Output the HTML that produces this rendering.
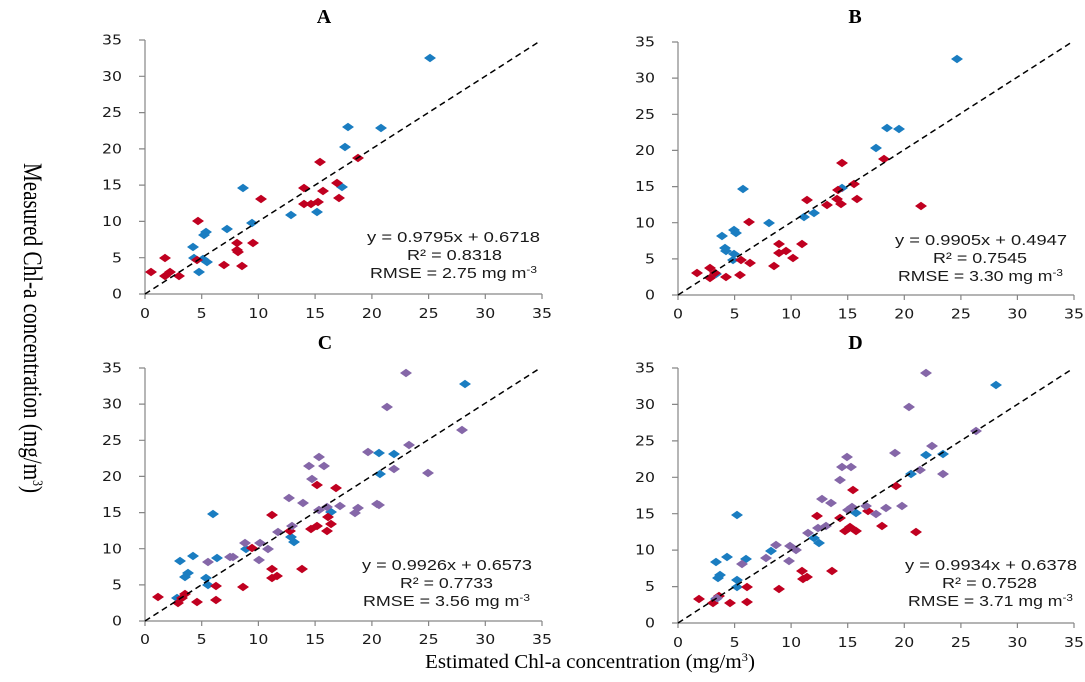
<!DOCTYPE html>
<html><head><meta charset="utf-8"><style>
html,body{margin:0;padding:0;background:#fff;}
svg{display:block;}
.t{font-family:"DejaVu Sans","Liberation Sans",sans-serif;font-size:13px;fill:#1a1a1a;}
.eq{font-family:"Liberation Sans",sans-serif;font-size:15px;fill:#1a1a1a;}
.ti{font-family:"Liberation Serif",serif;font-size:20px;font-weight:bold;fill:#000;}
.lab{font-family:"Liberation Serif",serif;font-size:20px;fill:#000;}
.ax{stroke:#868686;stroke-width:1.2;fill:none;}
.dl{stroke:#000;stroke-width:1.5;stroke-dasharray:6,4;fill:none;}
</style></head><body>
<svg width="1085" height="682" viewBox="0 0 1085 682" xmlns="http://www.w3.org/2000/svg">
<defs>
<polygon id="r" points="0,-4.2 6,0 0,4.2 -6,0" fill="#c00020"/>
<polygon id="b" points="0,-4.2 6,0 0,4.2 -6,0" fill="#1a7dc1"/>
<polygon id="p" points="0,-4.2 6,0 0,4.2 -6,0" fill="#8567a8"/>
</defs>
<rect width="1085" height="682" fill="#fff"/>

<!-- Titles -->
<text class="ti" x="324" y="23" text-anchor="middle">A</text>
<text class="ti" x="855" y="23" text-anchor="middle">B</text>
<text class="ti" x="325" y="349" text-anchor="middle">C</text>
<text class="ti" x="855.5" y="349" text-anchor="middle">D</text>

<!-- Axis labels -->
<text class="lab" transform="translate(24,163) rotate(90) scale(1,1.3)" x="0" y="0" font-size="18" textLength="330" lengthAdjust="spacingAndGlyphs">Measured  Chl-a  concentration  (mg/m<tspan dy="-7" font-size="11">3</tspan><tspan dy="7">)</tspan></text>
<text class="lab" x="425" y="668" textLength="330" lengthAdjust="spacingAndGlyphs">Estimated  Chl-a  concentration  (mg/m<tspan dy="-7" font-size="12">3</tspan><tspan dy="7">)</tspan></text>

<!-- ===== Panel A ===== -->
<g>
<path class="ax" d="M145,40V294H542"/>
<path class="ax" d="M139,294H145M139,257.7H145M139,221.4H145M139,185.1H145M139,148.9H145M139,112.6H145M139,76.3H145M139,40H145
M145,294V299M201.7,294V299M258.4,294V299M315.1,294V299M371.9,294V299M428.6,294V299M485.3,294V299M542,294V299"/>
<g class="t">
<text x="112" y="298.6" textLength="10" lengthAdjust="spacingAndGlyphs">0</text>
<text x="112" y="262.3" textLength="10" lengthAdjust="spacingAndGlyphs">5</text>
<text x="102" y="226" textLength="20" lengthAdjust="spacingAndGlyphs">10</text>
<text x="102" y="189.7" textLength="20" lengthAdjust="spacingAndGlyphs">15</text>
<text x="102" y="153.5" textLength="20" lengthAdjust="spacingAndGlyphs">20</text>
<text x="102" y="117.2" textLength="20" lengthAdjust="spacingAndGlyphs">25</text>
<text x="102" y="80.9" textLength="20" lengthAdjust="spacingAndGlyphs">30</text>
<text x="102" y="44.6" textLength="20" lengthAdjust="spacingAndGlyphs">35</text>
<text x="140" y="317.8" textLength="10" lengthAdjust="spacingAndGlyphs">0</text>
<text x="196.7" y="317.8" textLength="10" lengthAdjust="spacingAndGlyphs">5</text>
<text x="248.4" y="317.8" textLength="20" lengthAdjust="spacingAndGlyphs">10</text>
<text x="305.1" y="317.8" textLength="20" lengthAdjust="spacingAndGlyphs">15</text>
<text x="361.9" y="317.8" textLength="20" lengthAdjust="spacingAndGlyphs">20</text>
<text x="418.6" y="317.8" textLength="20" lengthAdjust="spacingAndGlyphs">25</text>
<text x="475.3" y="317.8" textLength="20" lengthAdjust="spacingAndGlyphs">30</text>
<text x="532" y="317.8" textLength="20" lengthAdjust="spacingAndGlyphs">35</text>
</g>
<g>
<use href="#b" x="193" y="247"/><use href="#b" x="194" y="258"/><use href="#b" x="199" y="272"/><use href="#b" x="206" y="232"/><use href="#b" x="204" y="235"/><use href="#b" x="203" y="259"/><use href="#b" x="207" y="262"/><use href="#b" x="227" y="229"/><use href="#b" x="243" y="188"/><use href="#b" x="252" y="223"/><use href="#b" x="291" y="215"/><use href="#b" x="317" y="212"/><use href="#b" x="342" y="187"/><use href="#b" x="345" y="147"/><use href="#b" x="348" y="127"/><use href="#b" x="381" y="128"/><use href="#b" x="430" y="58"/>
<use href="#r" x="151" y="272"/><use href="#r" x="165" y="258"/><use href="#r" x="165" y="276"/><use href="#r" x="170" y="272"/><use href="#r" x="179" y="276"/><use href="#r" x="198" y="221"/><use href="#r" x="197" y="260"/><use href="#r" x="224" y="265"/><use href="#r" x="237" y="243"/><use href="#r" x="237" y="250"/><use href="#r" x="238" y="252"/><use href="#r" x="242" y="266"/><use href="#r" x="253" y="243"/><use href="#r" x="261" y="199"/><use href="#r" x="304" y="188"/><use href="#r" x="304" y="204"/><use href="#r" x="311" y="204"/><use href="#r" x="318" y="202"/><use href="#r" x="320" y="162"/><use href="#r" x="323" y="191"/><use href="#r" x="337" y="183"/><use href="#r" x="339" y="198"/><use href="#r" x="358" y="158"/>
</g>
<path class="dl" d="M145,294L537.4,42.8"/>
<g class="eq">
<text x="367" y="242" textLength="173" lengthAdjust="spacingAndGlyphs">y = 0.9795x + 0.6718</text>
<text x="407" y="260" textLength="95" lengthAdjust="spacingAndGlyphs">R² = 0.8318</text>
<text x="370" y="278" textLength="167" lengthAdjust="spacingAndGlyphs">RMSE = 2.75 mg m<tspan dy="-5" font-size="10">-3</tspan></text>
</g>
</g>

<!-- ===== Panel B ===== -->
<g>
<path class="ax" d="M678,42V295H1074"/>
<path class="ax" d="M672,295H678M672,258.9H678M672,222.7H678M672,186.6H678M672,150.4H678M672,114.3H678M672,78.1H678M672,42H678
M678,295V300M734.6,295V300M791.1,295V300M847.7,295V300M904.3,295V300M960.9,295V300M1017.4,295V300M1074,295V300"/>
<g class="t">
<text x="645" y="299.6" textLength="10" lengthAdjust="spacingAndGlyphs">0</text>
<text x="645" y="263.5" textLength="10" lengthAdjust="spacingAndGlyphs">5</text>
<text x="635" y="227.3" textLength="20" lengthAdjust="spacingAndGlyphs">10</text>
<text x="635" y="191.2" textLength="20" lengthAdjust="spacingAndGlyphs">15</text>
<text x="635" y="155" textLength="20" lengthAdjust="spacingAndGlyphs">20</text>
<text x="635" y="118.9" textLength="20" lengthAdjust="spacingAndGlyphs">25</text>
<text x="635" y="82.7" textLength="20" lengthAdjust="spacingAndGlyphs">30</text>
<text x="635" y="46.6" textLength="20" lengthAdjust="spacingAndGlyphs">35</text>
<text x="673" y="318.3" textLength="10" lengthAdjust="spacingAndGlyphs">0</text>
<text x="729.6" y="318.3" textLength="10" lengthAdjust="spacingAndGlyphs">5</text>
<text x="781.1" y="318.3" textLength="20" lengthAdjust="spacingAndGlyphs">10</text>
<text x="837.7" y="318.3" textLength="20" lengthAdjust="spacingAndGlyphs">15</text>
<text x="894.3" y="318.3" textLength="20" lengthAdjust="spacingAndGlyphs">20</text>
<text x="950.9" y="318.3" textLength="20" lengthAdjust="spacingAndGlyphs">25</text>
<text x="1007.4" y="318.3" textLength="20" lengthAdjust="spacingAndGlyphs">30</text>
<text x="1064" y="318.3" textLength="20" lengthAdjust="spacingAndGlyphs">35</text>
</g>
<g>
<use href="#b" x="716" y="274"/><use href="#b" x="722" y="236"/><use href="#b" x="725" y="248"/><use href="#b" x="726" y="251"/><use href="#b" x="734" y="254"/><use href="#b" x="733" y="260"/><use href="#b" x="734" y="230"/><use href="#b" x="736" y="233"/><use href="#b" x="743" y="189"/><use href="#b" x="769" y="223"/><use href="#b" x="804" y="217"/><use href="#b" x="814" y="213"/><use href="#b" x="842" y="188"/><use href="#b" x="876" y="148"/><use href="#b" x="887" y="128"/><use href="#b" x="899" y="129"/><use href="#b" x="957" y="59"/>
<use href="#r" x="697" y="273"/><use href="#r" x="710" y="268"/><use href="#r" x="710" y="278"/><use href="#r" x="715" y="273"/><use href="#r" x="726" y="277"/><use href="#r" x="741" y="260"/><use href="#r" x="740" y="275"/><use href="#r" x="750" y="263"/><use href="#r" x="749" y="222"/><use href="#r" x="774" y="266"/><use href="#r" x="779" y="244"/><use href="#r" x="779" y="253"/><use href="#r" x="786" y="251"/><use href="#r" x="793" y="258"/><use href="#r" x="802" y="244"/><use href="#r" x="807" y="200"/><use href="#r" x="827" y="205"/><use href="#r" x="837" y="199"/><use href="#r" x="838" y="190"/><use href="#r" x="841" y="204"/><use href="#r" x="842" y="163"/><use href="#r" x="854" y="184"/><use href="#r" x="857" y="199"/><use href="#r" x="884" y="159"/><use href="#r" x="921" y="206"/>
</g>
<path class="dl" d="M678,295L1070,43.3"/>
<g class="eq">
<text x="895" y="245" textLength="172" lengthAdjust="spacingAndGlyphs">y = 0.9905x + 0.4947</text>
<text x="933" y="263" textLength="94" lengthAdjust="spacingAndGlyphs">R² = 0.7545</text>
<text x="898" y="281" textLength="165" lengthAdjust="spacingAndGlyphs">RMSE = 3.30 mg m<tspan dy="-5" font-size="10">-3</tspan></text>
</g>
</g>

<!-- ===== Panel C ===== -->
<g>
<path class="ax" d="M145,368V621H542"/>
<path class="ax" d="M139,621H145M139,584.9H145M139,548.7H145M139,512.6H145M139,476.4H145M139,440.3H145M139,404.1H145M139,368H145
M145,621V626M201.7,621V626M258.4,621V626M315.1,621V626M371.9,621V626M428.6,621V626M485.3,621V626M542,621V626"/>
<g class="t">
<text x="112" y="625.6" textLength="10" lengthAdjust="spacingAndGlyphs">0</text>
<text x="112" y="589.5" textLength="10" lengthAdjust="spacingAndGlyphs">5</text>
<text x="102" y="553.3" textLength="20" lengthAdjust="spacingAndGlyphs">10</text>
<text x="102" y="517.2" textLength="20" lengthAdjust="spacingAndGlyphs">15</text>
<text x="102" y="481" textLength="20" lengthAdjust="spacingAndGlyphs">20</text>
<text x="102" y="444.9" textLength="20" lengthAdjust="spacingAndGlyphs">25</text>
<text x="102" y="408.7" textLength="20" lengthAdjust="spacingAndGlyphs">30</text>
<text x="102" y="372.6" textLength="20" lengthAdjust="spacingAndGlyphs">35</text>
<text x="140" y="643.8" textLength="10" lengthAdjust="spacingAndGlyphs">0</text>
<text x="196.7" y="643.8" textLength="10" lengthAdjust="spacingAndGlyphs">5</text>
<text x="248.4" y="643.8" textLength="20" lengthAdjust="spacingAndGlyphs">10</text>
<text x="305.1" y="643.8" textLength="20" lengthAdjust="spacingAndGlyphs">15</text>
<text x="361.9" y="643.8" textLength="20" lengthAdjust="spacingAndGlyphs">20</text>
<text x="418.6" y="643.8" textLength="20" lengthAdjust="spacingAndGlyphs">25</text>
<text x="475.3" y="643.8" textLength="20" lengthAdjust="spacingAndGlyphs">30</text>
<text x="532" y="643.8" textLength="20" lengthAdjust="spacingAndGlyphs">35</text>
</g>
<g>
<use href="#b" x="177" y="598"/><use href="#b" x="180" y="561"/><use href="#b" x="185" y="577"/><use href="#b" x="188" y="573"/><use href="#b" x="193" y="556"/><use href="#b" x="206" y="578"/><use href="#b" x="208" y="585"/><use href="#b" x="213" y="514"/><use href="#b" x="217" y="558"/><use href="#b" x="246" y="549"/><use href="#b" x="291" y="537"/><use href="#b" x="294" y="542"/><use href="#b" x="331" y="512"/><use href="#b" x="379" y="453"/><use href="#b" x="380" y="474"/><use href="#b" x="394" y="454"/><use href="#b" x="465" y="384"/>
<use href="#r" x="158" y="597"/><use href="#r" x="178" y="603"/><use href="#r" x="182" y="598"/><use href="#r" x="185" y="594"/><use href="#r" x="197" y="602"/><use href="#r" x="216" y="586"/><use href="#r" x="216" y="600"/><use href="#r" x="243" y="587"/><use href="#r" x="252" y="548"/><use href="#r" x="272" y="515"/><use href="#r" x="272" y="569"/><use href="#r" x="272" y="578"/><use href="#r" x="277" y="576"/><use href="#r" x="290" y="531"/><use href="#r" x="302" y="569"/><use href="#r" x="311" y="529"/><use href="#r" x="317" y="485"/><use href="#r" x="317" y="526"/><use href="#r" x="327" y="531"/><use href="#r" x="328" y="517"/><use href="#r" x="331" y="524"/><use href="#r" x="336" y="488"/>
<use href="#p" x="208" y="562"/><use href="#p" x="230" y="557"/><use href="#p" x="233" y="557"/><use href="#p" x="245" y="543"/><use href="#p" x="259" y="560"/><use href="#p" x="260" y="543"/><use href="#p" x="268" y="549"/><use href="#p" x="278" y="532"/><use href="#p" x="289" y="498"/><use href="#p" x="292" y="526"/><use href="#p" x="303" y="503"/><use href="#p" x="309" y="466"/><use href="#p" x="312" y="479"/><use href="#p" x="319" y="457"/><use href="#p" x="319" y="510"/><use href="#p" x="324" y="466"/><use href="#p" x="327" y="507"/><use href="#p" x="340" y="506"/><use href="#p" x="355" y="513"/><use href="#p" x="358" y="508"/><use href="#p" x="368" y="452"/><use href="#p" x="377" y="504"/><use href="#p" x="406" y="373"/><use href="#p" x="387" y="407"/><use href="#p" x="462" y="430"/><use href="#p" x="409" y="445"/><use href="#p" x="394" y="469"/><use href="#p" x="428" y="473"/><use href="#p" x="379" y="505"/>
</g>
<path class="dl" d="M145,621L538.3,369.3"/>
<g class="eq">
<text x="362" y="570" textLength="170" lengthAdjust="spacingAndGlyphs">y = 0.9926x + 0.6573</text>
<text x="400" y="588" textLength="93" lengthAdjust="spacingAndGlyphs">R² = 0.7733</text>
<text x="363" y="606" textLength="167" lengthAdjust="spacingAndGlyphs">RMSE = 3.56 mg m<tspan dy="-5" font-size="10">-3</tspan></text>
</g>
</g>

<!-- ===== Panel D ===== -->
<g>
<path class="ax" d="M678,368V623H1074"/>
<path class="ax" d="M672,623H678M672,586.6H678M672,550.1H678M672,513.7H678M672,477.3H678M672,440.9H678M672,404.4H678M672,368H678
M678,623V628M734.6,623V628M791.1,623V628M847.7,623V628M904.3,623V628M960.9,623V628M1017.4,623V628M1074,623V628"/>
<g class="t">
<text x="645" y="627.6" textLength="10" lengthAdjust="spacingAndGlyphs">0</text>
<text x="645" y="591.2" textLength="10" lengthAdjust="spacingAndGlyphs">5</text>
<text x="635" y="554.7" textLength="20" lengthAdjust="spacingAndGlyphs">10</text>
<text x="635" y="518.3" textLength="20" lengthAdjust="spacingAndGlyphs">15</text>
<text x="635" y="481.9" textLength="20" lengthAdjust="spacingAndGlyphs">20</text>
<text x="635" y="445.5" textLength="20" lengthAdjust="spacingAndGlyphs">25</text>
<text x="635" y="409" textLength="20" lengthAdjust="spacingAndGlyphs">30</text>
<text x="635" y="372.6" textLength="20" lengthAdjust="spacingAndGlyphs">35</text>
<text x="673" y="646.8" textLength="10" lengthAdjust="spacingAndGlyphs">0</text>
<text x="729.6" y="646.8" textLength="10" lengthAdjust="spacingAndGlyphs">5</text>
<text x="781.1" y="646.8" textLength="20" lengthAdjust="spacingAndGlyphs">10</text>
<text x="837.7" y="646.8" textLength="20" lengthAdjust="spacingAndGlyphs">15</text>
<text x="894.3" y="646.8" textLength="20" lengthAdjust="spacingAndGlyphs">20</text>
<text x="950.9" y="646.8" textLength="20" lengthAdjust="spacingAndGlyphs">25</text>
<text x="1007.4" y="646.8" textLength="20" lengthAdjust="spacingAndGlyphs">30</text>
<text x="1064" y="646.8" textLength="20" lengthAdjust="spacingAndGlyphs">35</text>
</g>
<g>
<use href="#b" x="716" y="599"/><use href="#b" x="716" y="562"/><use href="#b" x="720" y="575"/><use href="#b" x="718" y="578"/><use href="#b" x="727" y="557"/><use href="#b" x="737" y="515"/><use href="#b" x="737" y="580"/><use href="#b" x="737" y="587"/><use href="#b" x="746" y="559"/><use href="#b" x="771" y="551"/><use href="#b" x="814" y="538"/><use href="#b" x="819" y="543"/><use href="#b" x="856" y="513"/><use href="#b" x="911" y="474"/><use href="#b" x="926" y="455"/><use href="#b" x="943" y="454"/><use href="#b" x="996" y="385"/>
<use href="#r" x="699" y="599"/><use href="#r" x="713" y="603"/><use href="#r" x="719" y="596"/><use href="#r" x="730" y="603"/><use href="#r" x="747" y="587"/><use href="#r" x="747" y="602"/><use href="#r" x="779" y="589"/><use href="#r" x="802" y="571"/><use href="#r" x="803" y="579"/><use href="#r" x="807" y="577"/><use href="#r" x="817" y="516"/><use href="#r" x="832" y="571"/><use href="#r" x="840" y="518"/><use href="#r" x="845" y="531"/><use href="#r" x="850" y="527"/><use href="#r" x="853" y="490"/><use href="#r" x="856" y="531"/><use href="#r" x="868" y="511"/><use href="#r" x="882" y="526"/><use href="#r" x="896" y="486"/><use href="#r" x="916" y="532"/>
<use href="#p" x="717" y="598"/><use href="#p" x="742" y="564"/><use href="#p" x="766" y="558"/><use href="#p" x="776" y="545"/><use href="#p" x="789" y="561"/><use href="#p" x="790" y="546"/><use href="#p" x="796" y="550"/><use href="#p" x="808" y="533"/><use href="#p" x="818" y="528"/><use href="#p" x="822" y="499"/><use href="#p" x="826" y="526"/><use href="#p" x="831" y="503"/><use href="#p" x="840" y="480"/><use href="#p" x="842" y="467"/><use href="#p" x="847" y="457"/><use href="#p" x="851" y="467"/><use href="#p" x="848" y="510"/><use href="#p" x="852" y="507"/><use href="#p" x="866" y="506"/><use href="#p" x="876" y="514"/><use href="#p" x="886" y="508"/><use href="#p" x="902" y="506"/><use href="#p" x="895" y="453"/><use href="#p" x="920" y="470"/><use href="#p" x="926" y="373"/><use href="#p" x="909" y="407"/><use href="#p" x="932" y="446"/><use href="#p" x="943" y="474"/><use href="#p" x="976" y="431"/>
</g>
<path class="dl" d="M678,623L1070.7,370"/>
<g class="eq">
<text x="905" y="570" textLength="172" lengthAdjust="spacingAndGlyphs">y = 0.9934x + 0.6378</text>
<text x="942" y="588" textLength="95" lengthAdjust="spacingAndGlyphs">R² = 0.7528</text>
<text x="908" y="606" textLength="165" lengthAdjust="spacingAndGlyphs">RMSE = 3.71 mg m<tspan dy="-5" font-size="10">-3</tspan></text>
</g>
</g>
</svg>
</body></html>
